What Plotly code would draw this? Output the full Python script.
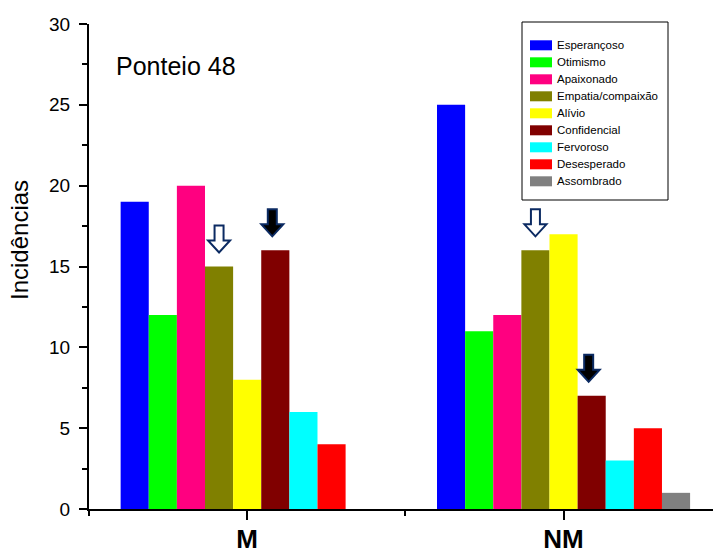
import plotly.graph_objects as go

# ---- data ----
groups = ["M", "NM"]
group_pos = [0, 1]
series_names = ["Esperançoso", "Otimismo", "Apaixonado", "Empatia/compaixão", "Alívio",
                "Confidencial", "Fervoroso", "Desesperado", "Assombrado"]
series_colors = ["#0000FF", "#00FF00", "#FF0080", "#808000", "#FFFF00",
                 "#800000", "#00FFFF", "#FF0000", "#808080"]
values_M = [19, 12, 20, 15, 8, 16, 6, 4, 0]
values_NM = [25, 11, 12, 16, 17, 7, 3, 5, 1]
y_ticks = [0, 5, 10, 15, 20, 25, 30]
title_text = "Ponteio 48"
y_title = "Incidências"
# arrows: (group index, series index, filled)
arrows = [(0, 3, False), (0, 5, True), (1, 3, False), (1, 5, True)]

W, H = 713, 554
ML, MR, MT, MB = 89, 0, 24, 45
PW, PH = W - ML - MR, H - MT - MB
FONT = "Liberation Sans, Arial, sans-serif"
BARGAP = 0.2
X_RANGE = [-0.5, 1.4724]


def px_x(px):
    return (px - ML) / PW


def px_y(py):
    return (H - MB - py) / PH


fig = go.Figure()
for i, name in enumerate(series_names):
    fig.add_trace(go.Bar(
        x=group_pos, y=[values_M[i], values_NM[i]], name=name,
        marker=dict(color=series_colors[i], line=dict(width=0)),
        showlegend=False, hoverinfo="skip",
    ))

# arrows (computed from bar slots)
nser = len(series_names)
slot = (1 - BARGAP) / nser
ux = (X_RANGE[1] - X_RANGE[0]) / PW   # data units per px (x)
uy = 30 / PH                           # data units per px (y)
shapes = []
for g, s, filled in arrows:
    vals = values_M if g == 0 else values_NM
    cx = group_pos[g] - (1 - BARGAP) / 2 + slot * (s + 0.5)
    if filled:
        cx -= 3 * ux
    tip = vals[s] + 14 * uy
    top = tip + 27 * uy
    neck = tip + 12 * uy
    hw = 11 * ux
    sw = 4.5 * ux
    pts = [(cx - sw, top), (cx + sw, top), (cx + sw, neck), (cx + hw, neck),
           (cx, tip), (cx - hw, neck), (cx - sw, neck)]
    path = "M " + " L ".join(f"{x},{y}" for x, y in pts) + " Z"
    shapes.append(dict(type="path", xref="x", yref="y", path=path,
                       fillcolor="#000000" if filled else "#FFFFFF",
                       line=dict(color="#0B2A62", width=2), layer="above"))

# legend box (drawn manually)
shapes.append(dict(type="rect", xref="paper", yref="paper",
                   x0=px_x(522), x1=px_x(668), y0=px_y(200), y1=px_y(22),
                   line=dict(color="#000000", width=1), fillcolor="rgba(0,0,0,0)"))
annotations = []
for i, name in enumerate(series_names):
    yc = 45.3 + 17 * i
    shapes.append(dict(type="rect", xref="paper", yref="paper",
                       x0=px_x(530), x1=px_x(552), y0=px_y(yc + 5), y1=px_y(yc - 5),
                       line=dict(width=0), fillcolor=series_colors[i]))
    annotations.append(dict(text=name, xref="paper", yref="paper",
                            x=px_x(555), y=px_y(yc), xanchor="left", yanchor="middle",
                            showarrow=False, font=dict(family=FONT, size=11.5, color="#000")))

annotations.append(dict(text=title_text, xref="paper", yref="paper",
                        x=px_x(114), y=px_y(66), xanchor="left", yanchor="middle",
                        showarrow=False, font=dict(family=FONT, size=25, color="#000")))
annotations.append(dict(text=y_title, xref="paper", yref="paper",
                        x=px_x(19), y=px_y(240), xanchor="center", yanchor="middle",
                        textangle=-90, showarrow=False,
                        font=dict(family=FONT, size=24, color="#000")))

fig.update_layout(
    width=W, height=H,
    margin=dict(l=ML, r=MR, t=MT, b=MB, autoexpand=False),
    paper_bgcolor="white", plot_bgcolor="white",
    barmode="group", bargap=BARGAP, bargroupgap=0,
    font=dict(family=FONT, color="#000"),
    shapes=shapes, annotations=annotations,
    xaxis=dict(range=X_RANGE, tickmode="array", tickvals=group_pos, ticktext=groups,
               showline=True, linecolor="#000", linewidth=2, showgrid=False, zeroline=False,
               ticks="outside", ticklen=9, tickwidth=1.5, tickcolor="#000",
               ticklabelstandoff=-3,
               tickfont=dict(family=FONT, size=26, weight="bold", color="#000"),
               minor=dict(dtick=0.5, tick0=-0.5, ticks="outside", ticklen=5,
                          tickwidth=1.5, tickcolor="#000", showgrid=False)),
    yaxis=dict(range=[0, 30], tickmode="array", tickvals=y_ticks,
               showline=True, linecolor="#000", linewidth=2, showgrid=False, zeroline=False,
               ticks="outside", ticklen=8, tickwidth=1.5, tickcolor="#000",
               ticklabelstandoff=5,
               tickfont=dict(family=FONT, size=19, color="#000"),
               minor=dict(dtick=2.5, tick0=0, ticks="outside", ticklen=5,
                          tickwidth=1.5, tickcolor="#000", showgrid=False)),
)

fig.write_html("out.html", config={"displayModeBar": False},
               post_script="document.body.style.margin='0';document.body.style.overflow='hidden';")
